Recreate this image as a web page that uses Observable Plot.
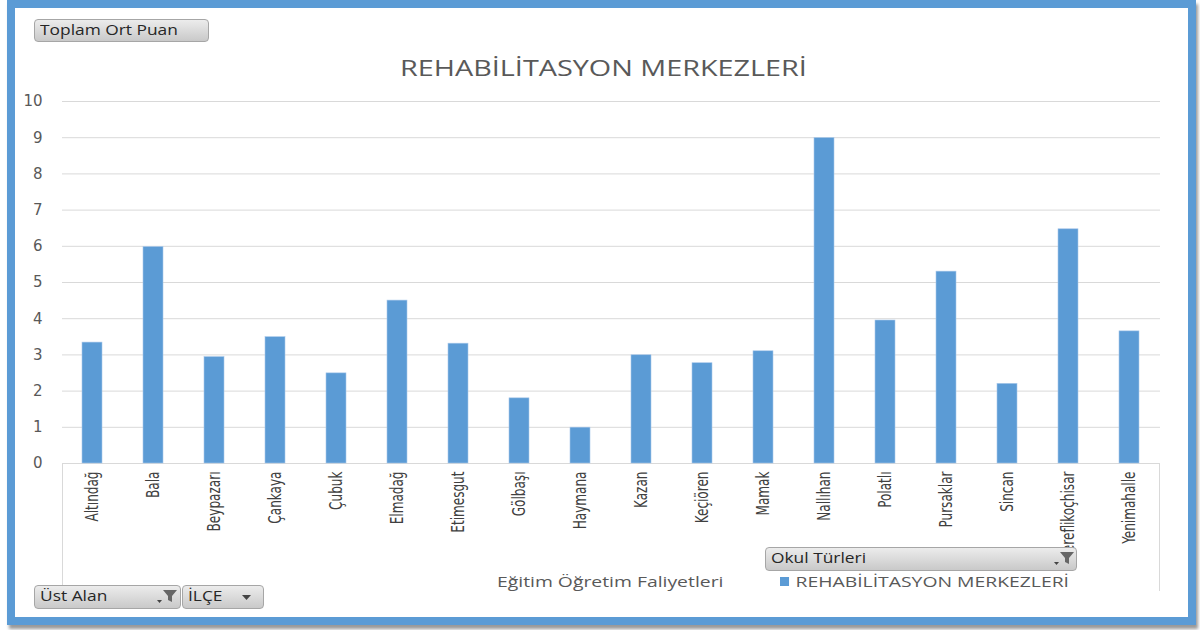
<!DOCTYPE html>
<html>
<head>
<meta charset="utf-8">
<script src="https://cdn.jsdelivr.net/npm/d3@7"></script>
<script src="https://cdn.jsdelivr.net/npm/@observablehq/plot@0.6"></script>
<style>
  html, body { margin:0; padding:0; background:#fff; width:1200px; height:630px; overflow:hidden; }
  #frame { position:absolute; left:7px; top:0px; width:1173px; height:609px; border:8px solid #5B9BD5; background:#fff; box-shadow: 2px 4px 3px #9a9a9a; }
  #chart { position:absolute; left:0; top:0; }
  .title { position:absolute; left:0; width:1206px; top:54px; text-align:center; font-family:"Open Sans", sans-serif; font-size:21px; color:#595959; }
  .title span { display:inline-block; transform:scaleX(1.37); transform-origin:center; }
  .btn { position:absolute; box-sizing:border-box; border:1px solid #a6a6a6; border-radius:4px; background:linear-gradient(#ececec,#c9c9c9); font-family:"Open Sans", sans-serif; font-size:14px; color:#262626; padding-left:5px; line-height:20px; z-index:5; white-space:nowrap; }
  .btn span { display:inline-block; transform:scaleX(1.24); transform-origin:left center; }
  .btn svg { position:absolute; }
  .lbl { position:absolute; font-family:"Open Sans", sans-serif; font-size:15px; color:#595959; white-space:nowrap; transform:scaleX(1.29); transform-origin:left center; }
  .vline { position:absolute; width:1px; background:#d9d9d9; }
</style>
</head>
<body>
<div id="frame"></div>
<div class="title"><span>REHABİLİTASYON MERKEZLERİ</span></div>
<div id="chart"></div>
<div class="vline" style="left:62px; top:463px; height:128px;"></div>
<div class="vline" style="left:1159px; top:463px; height:128px;"></div>
<div class="btn" style="left:34px; top:19px; width:175px; height:23px;"><span>Toplam Ort Puan</span></div>
<div class="btn" style="left:765px; top:547px; width:312px; height:24px;"><span>Okul Türleri</span>
  <svg style="left:286px; top:2px;" width="24" height="18"><path d="M2 12 h5 l-2.5 3 z" fill="#444"/><path d="M8 2 h14 l-5 6 v6 l-4 -2 v-4 z" fill="#666"/></svg>
</div>
<div class="btn" style="left:34px; top:585px; width:147px; height:24px;"><span>Üst Alan</span>
  <svg style="left:120px; top:2px;" width="24" height="18"><path d="M2 12 h5 l-2.5 3 z" fill="#444"/><path d="M8 2 h14 l-5 6 v6 l-4 -2 v-4 z" fill="#666"/></svg>
</div>
<div class="btn" style="left:182px; top:585px; width:82px; height:24px;"><span>İLÇE</span>
  <svg style="left:56px; top:4px;" width="16" height="14"><path d="M3 5 h9 l-4.5 5 z" fill="#444"/></svg>
</div>
<div class="lbl" style="left:497px; top:571px;">Eğitim Öğretim Faliyetleri</div>
<div class="lbl" style="left:780px; top:571px;"><span style="display:inline-block;width:7px;height:9px;background:#5B9BD5;margin-right:5px;vertical-align:1px;"></span>REHABİLİTASYON MERKEZLERİ</div>
<script>
const districts = ["Altındağ","Bala","Beypazarı","Çankaya","Çubuk","Elmadağ","Etimesgut","Gölbaşı","Haymana","Kazan","Keçiören","Mamak","Nallıhan","Polatlı","Pursaklar","Sincan","Şereflikoçhisar","Yenimahalle"];
const values = [3.34, 5.98, 2.94, 3.49, 2.49, 4.5, 3.31, 1.8, 0.99, 2.99, 2.77, 3.1, 8.99, 3.95, 5.3, 2.2, 6.47, 3.65];
const yTicks = [0,1,2,3,4,5,6,7,8,9,10];
const data = districts.map((d, i) => ({district: d, value: values[i]}));

const chart = Plot.plot({
  width: 1200,
  height: 555,
  marginLeft: 62,
  marginRight: 40,
  marginTop: 101,
  marginBottom: 92,
  style: {background: "transparent", fontFamily: "Open Sans, sans-serif"},
  x: {domain: districts, paddingInner: 0.67, paddingOuter: 0.335},
  y: {domain: [0, 10]},
  marks: [
    Plot.gridY(yTicks, {stroke: "#d9d9d9", strokeOpacity: 1}),
    Plot.ruleY([0], {stroke: "#d9d9d9"}),
    Plot.barY(data, {x: "district", y: "value", fill: "#5B9BD5", stroke: "#a9c8ea", strokeWidth: 0.6}),
    Plot.axisY(yTicks, {tickSize: 0, tickPadding: 20, fontSize: 15, fill: "#595959", label: null, fontFamily: "DejaVu Sans, sans-serif"}),
    Plot.axisX({tickRotate: -90, tickSize: 0, tickPadding: 8, fontSize: 17, fill: "#404040", label: null, fontFamily: "Liberation Sans Narrow, DejaVu Sans Condensed, Roboto Condensed, sans-serif"})
  ]
});
// condense rotated category labels along their length (narrow, tall glyphs as in the reference)
d3.select(chart).selectAll('g[aria-label="x-axis tick label"] text').each(function() {
  const t = this.getAttribute("transform") || "";
  this.setAttribute("transform", t + " scale(0.79,1)");
});
document.getElementById("chart").appendChild(chart);
</script>
</body>
</html>
